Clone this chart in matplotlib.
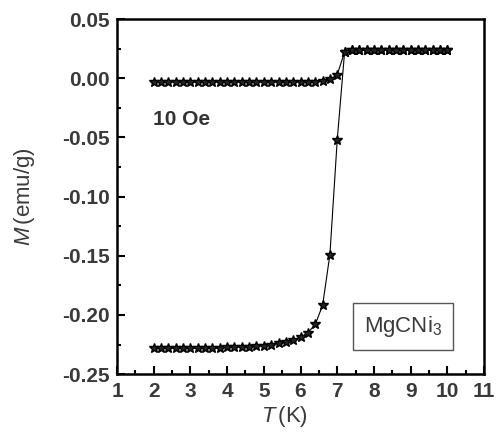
import matplotlib
matplotlib.use("Agg")
import matplotlib.pyplot as plt
from matplotlib.ticker import MultipleLocator

plt.rcParams['font.family'] = ['Liberation Sans', 'DejaVu Sans']
plt.rcParams['mathtext.fontset'] = 'custom'
plt.rcParams['mathtext.it'] = 'Liberation Sans:italic'
plt.rcParams['mathtext.rm'] = 'Liberation Sans'

# temperatures (K)
T = [2.0, 2.2, 2.4, 2.6, 2.8, 3.0, 3.2, 3.4, 3.6, 3.8,
     4.0, 4.2, 4.4, 4.6, 4.8, 5.0, 5.2, 5.4, 5.6, 5.8,
     6.0, 6.2, 6.4, 6.6, 6.8, 7.0, 7.2, 7.4, 7.6, 7.8,
     8.0, 8.2, 8.4, 8.6, 8.8, 9.0, 9.2, 9.4, 9.6, 9.8, 10.0]

# zero-field-cooled magnetisation (emu/g)
M_zfc = [-0.228, -0.228, -0.228, -0.228, -0.228, -0.228, -0.228, -0.228, -0.228, -0.228,
         -0.227, -0.227, -0.227, -0.227, -0.226, -0.226, -0.225, -0.224, -0.223, -0.221,
         -0.219, -0.215, -0.208, -0.192, -0.149, -0.052, 0.022, 0.024, 0.024, 0.024,
         0.024, 0.024, 0.024, 0.024, 0.024, 0.024, 0.024, 0.024, 0.024, 0.024, 0.024]

# field-cooled magnetisation (emu/g)
M_fc = [-0.003, -0.003, -0.003, -0.003, -0.003, -0.003, -0.003, -0.003, -0.003, -0.003,
        -0.003, -0.003, -0.003, -0.003, -0.003, -0.003, -0.003, -0.003, -0.003, -0.003,
        -0.003, -0.003, -0.003, -0.002, -0.001, 0.003, 0.022, 0.024, 0.024, 0.024,
        0.024, 0.024, 0.024, 0.024, 0.024, 0.024, 0.024, 0.024, 0.024, 0.024, 0.024]

fig = plt.figure(figsize=(4.98, 4.32), dpi=100)
ax = fig.add_axes([0.235, 0.134, 0.737, 0.822])

ax.plot(T, M_zfc, color='black', lw=0.8, marker='*', ms=7.5, mec='black', mfc='#222222')
ax.plot(T, M_fc, color='black', lw=0.8, marker='*', ms=7.5, mec='black', mfc='#222222')

ax.set_xlim(1, 11)
ax.set_ylim(-0.25, 0.05)
ax.xaxis.set_major_locator(MultipleLocator(1))
ax.xaxis.set_minor_locator(MultipleLocator(0.5))
ax.yaxis.set_major_locator(MultipleLocator(0.05))
ax.yaxis.set_minor_locator(MultipleLocator(0.025))
ax.yaxis.set_major_formatter(plt.FuncFormatter(lambda v, p: '%.2f' % v))

ax.tick_params(which='both', direction='in', top=False, right=False, width=1.5,
               labelsize=15, labelcolor='#3a3a3a')
ax.tick_params(axis='y', pad=5)
ax.tick_params(axis='x', pad=6)
ax.tick_params(which='major', length=6)
ax.tick_params(which='minor', length=3)
for lab in ax.get_xticklabels() + ax.get_yticklabels():
    lab.set_fontweight('bold')
for sp in ax.spines.values():
    sp.set_linewidth(1.8)

ax.set_xlabel(r'$\mathit{T}\,$(K)', fontsize=16, color='#3a3a3a')
ax.set_ylabel(r'$\mathit{M}\,$(emu/g)', fontsize=16, color='#3a3a3a')
ax.xaxis.set_label_coords(0.455, -0.085)
ax.yaxis.set_label_coords(-0.218, 0.5)

ax.text(1.98, -0.035, '10 Oe', fontsize=15, fontweight='bold', color='#333333',
        va='center', ha='left')
ax.text(8.79, -0.210, r'MgCNi$_3$', fontsize=16, color='#3a3a3a', va='center', ha='center',
        bbox=dict(boxstyle='square,pad=0.5', fc='white', ec='#555555', lw=1.0))

fig.savefig('out.png', dpi=100)
